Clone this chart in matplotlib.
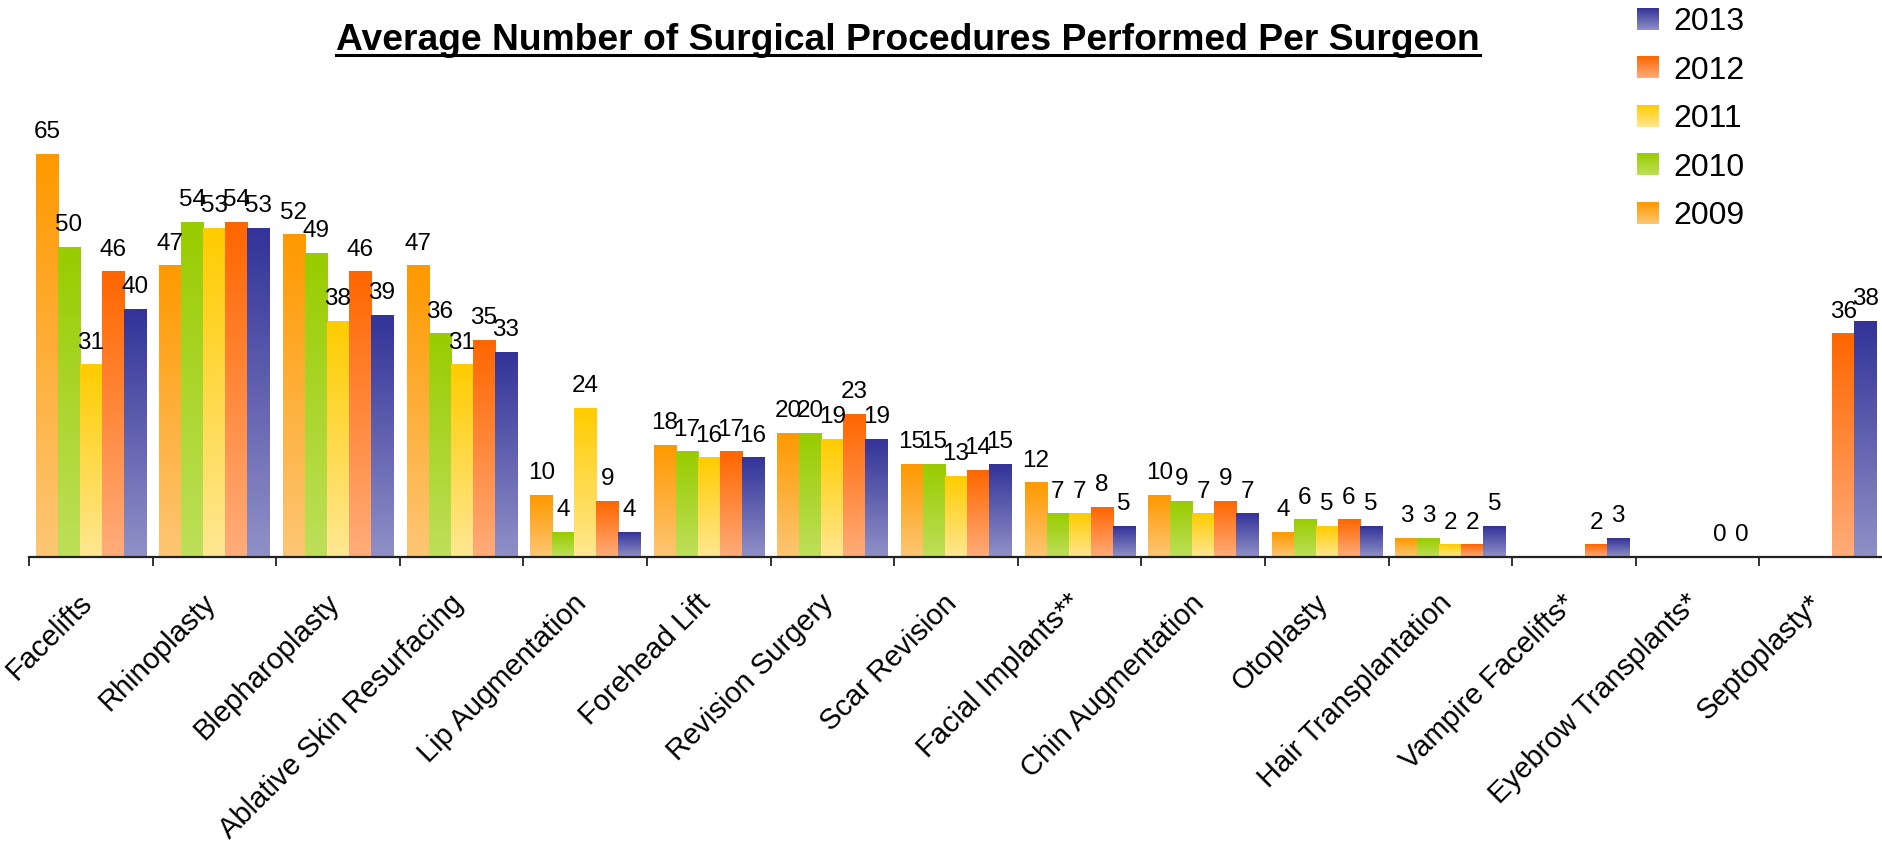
import numpy as np
import matplotlib
matplotlib.use('Agg')
import matplotlib.pyplot as plt
from matplotlib.colors import to_rgb
from matplotlib.image import BboxImage
from matplotlib.transforms import Bbox, TransformedBbox, ScaledTranslation
from matplotlib.legend_handler import HandlerBase
from matplotlib.patches import Patch
from matplotlib.lines import Line2D

plt.rcParams['font.family'] = ['Liberation Sans', 'DejaVu Sans']

title = 'Average Number of Surgical Procedures Performed Per Surgeon'
categories = ['Facelifts', 'Rhinoplasty', 'Blepharoplasty', 'Ablative Skin Resurfacing',
              'Lip Augmentation', 'Forehead Lift', 'Revision Surgery', 'Scar Revision',
              'Facial Implants**', 'Chin Augmentation', 'Otoplasty', 'Hair Transplantation',
              'Vampire Facelifts*', 'Eyebrow Transplants*', 'Septoplasty*']
years = ['2009', '2010', '2011', '2012', '2013']

nan = np.nan
v2009 = [65, 47, 52, 47, 10, 18, 20, 15, 12, 10, 4, 3, nan, nan, nan]
v2010 = [50, 54, 49, 36, 4, 17, 20, 15, 7, 9, 6, 3, nan, nan, nan]
v2011 = [31, 53, 38, 31, 24, 16, 19, 13, 7, 7, 5, 2, nan, nan, nan]
v2012 = [46, 54, 46, 35, 9, 17, 23, 14, 8, 9, 6, 2, 2, 0, 36]
v2013 = [40, 53, 39, 33, 4, 16, 19, 15, 5, 7, 5, 5, 3, 0, 38]
series = [v2009, v2010, v2011, v2012, v2013]

# gradient: saturated at the top of each bar, pale at the bottom
top_colors = ['#FF9900', '#99CC00', '#FFCC00', '#FF6600', '#333399']
bottom_colors = ['#FDC674', '#BEDF5A', '#FFE792', '#FFAC7A', '#9090C7']


def gradient(top, bottom, n=64):
    t = np.linspace(0, 1, n)[:, None, None]
    return (1 - t) * np.array(to_rgb(bottom)) + t * np.array(to_rgb(top))


class GradientHandler(HandlerBase):
    def __init__(self, top, bottom):
        super().__init__()
        self.img = gradient(top, bottom)

    def create_artists(self, legend, orig_handle, xdescent, ydescent,
                       width, height, fontsize, trans):
        bb = TransformedBbox(Bbox.from_bounds(-xdescent, -ydescent, width, height), trans)
        im = BboxImage(bb, interpolation='bilinear', origin='lower')
        im.set_data(self.img)
        return [im]


W, H, DPI = 1883, 843, 100
fig = plt.figure(figsize=(W / DPI, H / DPI), dpi=DPI)
ax = fig.add_axes([29 / W, (H - 557) / H, (W - 29) / W, 557 / H])

n = len(categories)
bar_w = 0.178
x = np.arange(n) + 0.5

for j, vals in enumerate(series):
    xs = x + (j - 2) * bar_w
    bars = ax.bar(xs, vals, bar_w, color='none', linewidth=0)
    img = gradient(top_colors[j], bottom_colors[j])
    for rect, v in zip(bars, vals):
        if np.isnan(v):
            continue
        if v > 0:
            x0 = rect.get_x()
            ax.imshow(img, extent=[x0, x0 + bar_w, 0, v], origin='lower',
                      aspect='auto', interpolation='bilinear', zorder=2)
        ax.annotate(f'{v:.0f}', (rect.get_x() + bar_w / 2, v), xytext=(0, 11.5),
                    textcoords='offset points', ha='center', va='baseline',
                    fontsize=17.5, zorder=3)

ax.set_xlim(0, n)
ax.set_ylim(0, 557 / 6.2)

for s in ['left', 'top', 'right']:
    ax.spines[s].set_visible(False)
ax.spines['bottom'].set_linewidth(1.6)
ax.spines['bottom'].set_color('#222222')
ax.spines['bottom'].set_zorder(4)
ax.set_yticks([])

ax.set_xticks(np.arange(n + 1))
ax.set_xticklabels([''] * (n + 1))
ax.set_xticks(x, minor=True)
ax.set_xticklabels(categories, minor=True, rotation=45, ha='right',
                   rotation_mode='anchor', fontsize=21)
ax.tick_params(axis='x', which='major', length=6.5, width=1.3, color='#222222')
ax.tick_params(axis='x', which='minor', length=0, pad=23)
shift = ScaledTranslation(-13 / DPI, 0, fig.dpi_scale_trans)
for lbl in ax.get_xticklabels(minor=True):
    lbl.set_transform(lbl.get_transform() + shift)

# legend, newest year first
handles = [Patch(label=y) for y in years][::-1]
hmap = {h: GradientHandler(top_colors[years.index(h.get_label())],
                           bottom_colors[years.index(h.get_label())]) for h in handles}
fig.legend(handles=handles, handler_map=hmap, loc='upper left',
           bbox_to_anchor=(1637 / W, 1 - 7 / H), bbox_transform=fig.transFigure,
           frameon=False, fontsize=23, borderpad=0, borderaxespad=0,
           handlelength=0.68, handleheight=0.68, handletextpad=0.45,
           labelspacing=0.58)

# underlined bold title
t = fig.text(908 / W, 1 - 50 / H, title, ha='center', va='baseline',
             fontsize=26.8, fontweight='bold')
fig.canvas.draw()
bb = t.get_window_extent().transformed(fig.transFigure.inverted())
y_line = 1 - 55 / H
fig.add_artist(Line2D([bb.x0, bb.x1], [y_line, y_line], transform=fig.transFigure,
                      color='black', linewidth=2.2))

fig.savefig('out.png', dpi=DPI)
